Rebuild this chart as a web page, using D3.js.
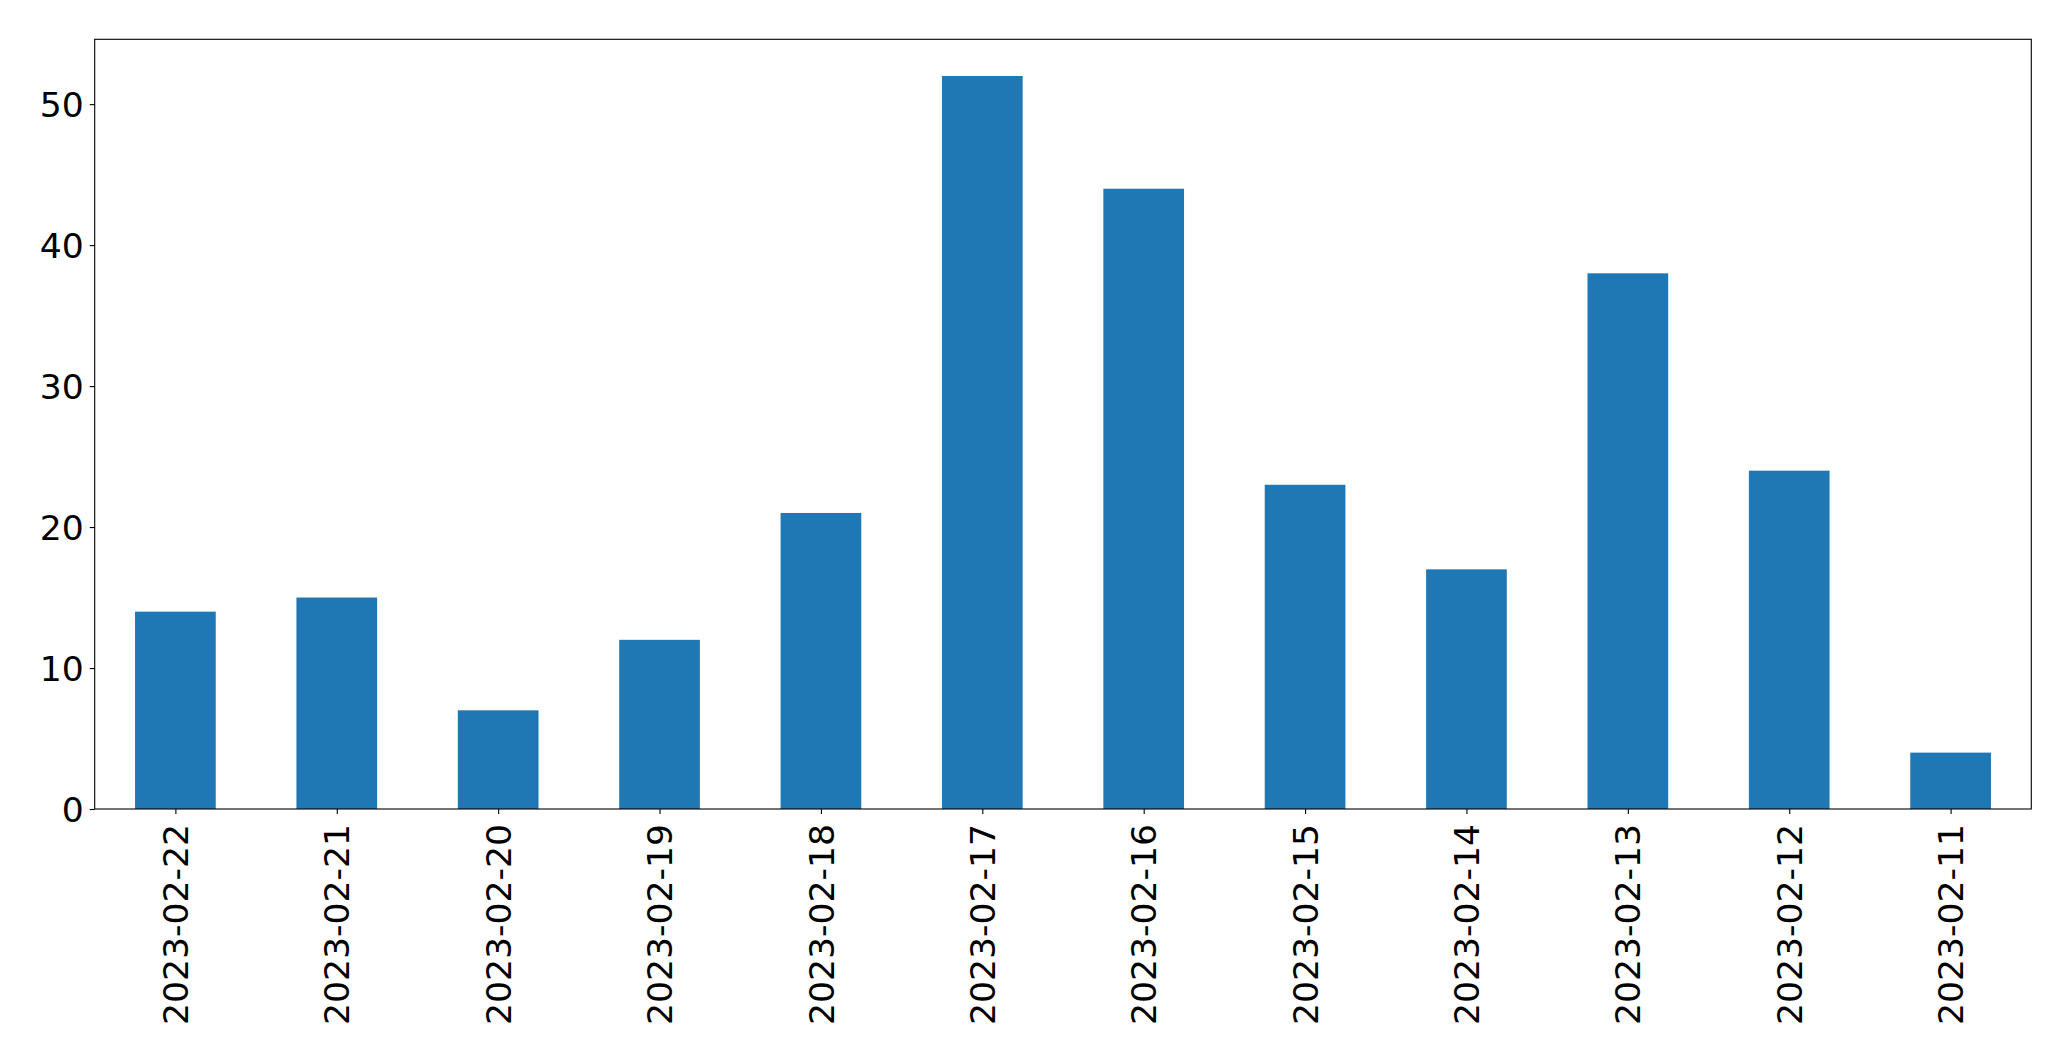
<!DOCTYPE html>
<html>
<head>
<meta charset="utf-8">
<script src="https://cdn.jsdelivr.net/npm/d3@7"></script>
<style>
  html, body { margin: 0; padding: 0; background: #ffffff; }
  svg { display: block; }
</style>
</head>
<body>
<svg id="chart" width="2071" height="1061"></svg>
<script>
const categories = ["2023-02-22","2023-02-21","2023-02-20","2023-02-19","2023-02-18","2023-02-17","2023-02-16","2023-02-15","2023-02-14","2023-02-13","2023-02-12","2023-02-11"];
const values = [14, 15, 7, 12, 21, 52, 44, 23, 17, 38, 24, 4];
const yTicks = [0, 10, 20, 30, 40, 50];

const svg = d3.select("#chart");
const plotLeft = 94.7, plotRight = 2031.3, plotTop = 39.3, plotBottom = 809;
const fontSize = 34.6;
const font = "'DejaVu Sans', sans-serif";

const x = d3.scaleLinear().domain([-0.5, categories.length - 0.5]).range([plotLeft, plotRight]);
const y = d3.scaleLinear().domain([0, d3.max(values) * 1.05]).range([plotBottom, plotTop]);
const barW = x(0.25) - x(-0.25);

svg.append("g").selectAll("rect").data(values).join("rect")
  .attr("x", (d, i) => x(i) - barW / 2)
  .attr("y", d => y(d))
  .attr("width", barW)
  .attr("height", d => y(0) - y(d))
  .attr("fill", "#1f77b4");

// spines
svg.append("rect")
  .attr("x", plotLeft).attr("y", plotTop)
  .attr("width", plotRight - plotLeft).attr("height", plotBottom - plotTop)
  .attr("fill", "none").attr("stroke", "#000").attr("stroke-width", 1.1);

// y axis
const yAxis = d3.axisLeft(y).tickValues(yTicks).tickSize(5).tickPadding(5).tickFormat(d3.format("d"));
const gy = svg.append("g").attr("transform", `translate(${plotLeft},0)`).call(yAxis);
gy.select(".domain").remove();
gy.selectAll(".tick line").attr("stroke", "#000").attr("stroke-width", 1.1);
gy.selectAll(".tick text")
  .attr("font-family", font).attr("font-size", fontSize).attr("fill", "#000")
  .attr("x", -11).attr("dy", "0.36em");

// x axis
const xAxis = d3.axisBottom(x).tickValues(d3.range(categories.length)).tickSize(5).tickFormat(i => categories[i]);
const gx = svg.append("g").attr("transform", `translate(0,${plotBottom})`).call(xAxis);
gx.select(".domain").remove();
gx.selectAll(".tick line").attr("stroke", "#000").attr("stroke-width", 1.1);
gx.selectAll(".tick text")
  .attr("font-family", font).attr("font-size", fontSize).attr("fill", "#000")
  .attr("text-anchor", "end")
  .attr("transform", "rotate(-90)")
  .attr("x", -15).attr("y", 0).attr("dy", "0.35em");
</script>
</body>
</html>
